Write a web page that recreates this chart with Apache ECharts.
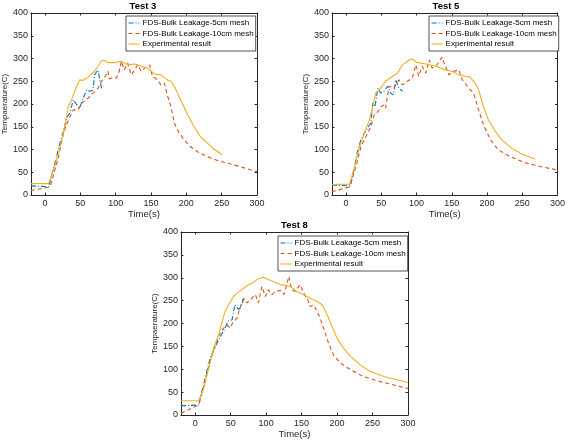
<!DOCTYPE html>
<html><head><meta charset="utf-8">
<script src="https://cdn.jsdelivr.net/npm/echarts@6/dist/echarts.min.js"></script>
<style>html,body{margin:0;padding:0;background:#fff}#c{width:568px;height:442px}</style>
</head><body><div id="c"></div>
<script>
const seriesNames = ['FDS-Bulk Leakage-5cm mesh', 'FDS-Bulk Leakage-10cm mesh', 'Experimental result'];
const chartTitles = ['Test 3', 'Test 5', 'Test 8'];
const xTicks = [0, 50, 100, 150, 200, 250, 300];
const yTicks = [0, 50, 100, 150, 200, 250, 300, 350, 400];

// Test 3
const test3_5cm = [[-20,20],[5,18],[7,22],[14,70],[21,114],[26,139],[30.5,169],[35,180],[40,209],[43,202],[49,191],[54,213],[59,231],[63,228],[68,231],[70,264],[75,275],[77,257],[80,235],[82,239]];
const test3_10cm = [[-20,10],[5,17],[8,22],[19,84],[26,136],[33,165],[40,187],[47,187],[52,202],[61,213],[68,224],[75,235],[80,250],[84,257],[89,272],[91,255],[94,257],[101,257],[105,272],[108,294],[112,275],[117,290],[122,264],[127,275],[131,286],[136,272],[141,279],[148,286],[152,261],[159,253],[164,242],[169,246],[173,220],[178,195],[183,158],[190,136],[197,121],[206,106],[216,95],[230,84],[244,76],[258,70],[277,62],[300,51]];
const test3_exp = [[-20,25],[5,25],[12,55],[19,92],[26,136],[33,195],[37.5,209],[44.5,238],[49,253],[54,252],[61,259],[70,272],[75,283],[80,295],[84,296],[89,291],[98,291],[108,294],[117,286],[127,288],[136,283],[145,279],[155,266],[164,264],[173,253],[178,250],[183,239],[192,209],[202,176],[211,150],[220,128],[230,114],[239,101],[251,88]];

// Test 5
const test5_5cm = [[-20,22],[5,20],[7,26],[12,62],[16,95],[21,121],[26,136],[30.5,147],[35,158],[38,202],[41,194],[45,235],[49,224],[54,228],[59,239],[63,224],[67,220],[70.5,253],[75,235],[80,228]];
const test5_10cm = [[-20,7],[5,18],[7,22],[14,62],[21,106],[28,128],[35,150],[40,176],[45,183],[49,194],[54,198],[56,191],[61,239],[68,235],[75,253],[80,242],[87,250],[94,257],[99,286],[103,261],[108,283],[113,268],[118,297],[122,279],[129,286],[136,303],[141,283],[146,264],[153,272],[160,275],[165,253],[174,235],[181,224],[188,187],[195,154],[205,121],[216,99],[235,83],[254,71],[277,62],[300,55]];
const test5_exp = [[-20,23],[5,24],[12,62],[19,106],[26,136],[33,165],[38,195],[42,224],[47,231],[56,250],[66,261],[73,268],[80,286],[87,294],[92,299],[96,297],[99,292],[113,288],[127,283],[141,275],[150,272],[160,264],[169,261],[176,259],[183,246],[188,231],[195,194],[202,165],[212,139],[221,121],[235,103],[249,90],[268,79]];

// Test 8
const test8_5cm = [[-20,20],[5,22],[7,36],[14,80],[21,124],[26,142],[33,164],[38,179],[42,190],[47,206],[52,208],[56,241],[61,231],[64,234],[68,252],[70.5,255]];
const test8_10cm = [[-20,4],[5,22],[7,33],[14,77],[21,117],[28,150],[35,179],[40,190],[45,197],[49,190],[54,204],[59,212],[63,234],[68,255],[73,245],[78,252],[85,263],[89,245],[94,281],[99,259],[103,274],[108,263],[113,270],[120,272],[125,263],[129,285],[132,303],[136,274],[141,270],[148,285],[153,266],[158,255],[162,237],[167,241],[172,226],[176,212],[181,190],[188,157],[195,131],[205,113],[219,99],[237,84],[261,73],[284,64],[300,58]];
const test8_exp = [[-20,31],[5,31],[12,58],[19,102],[26,146],[33,175],[38,204],[42,226],[47,241],[54,259],[59,266],[66,274],[73,283],[80,288],[87,296],[96,301],[103,296],[110,292],[120,285],[129,283],[134,281],[143,270],[153,263],[162,255],[172,248],[179,241],[186,219],[193,193],[200,168],[209,146],[219,128],[233,109],[247,95],[266,84],[284,77],[300,71]];

const panels = [
  {title: chartTitles[0], data: [test3_5cm, test3_10cm, test3_exp], grid: {left: 29, top: 13, width: 228, height: 182}, legend: {left: 126, top: 16}, yNameGap: 18},
  {title: chartTitles[1], data: [test5_5cm, test5_10cm, test5_exp], grid: {left: 332, top: 13, width: 228, height: 182}, legend: {left: 429, top: 16}, yNameGap: 18},
  {title: chartTitles[2], data: [test8_5cm, test8_10cm, test8_exp], grid: {left: 181, top: 232, width: 227, height: 183}, legend: {left: 278, top: 236}, yNameGap: 18}
];

const colors = ['#0072BD', '#D95319', '#EDB120'];
const dashes = [[5, 2, 1, 2], [4, 3], 'solid'];
const ink = '#262626';
const font = 'Liberation Sans, Arial, sans-serif';

const grids = [], xAxes = [], yAxes = [], series = [], legends = [], titles = [];
panels.forEach((p, i) => {
  grids.push(Object.assign({containLabel: false}, p.grid));
  const cx = p.grid.left + p.grid.width / 2;
  titles.push({text: p.title, left: cx, top: p.grid.top - 12, textAlign: 'center', padding: 0,
    textStyle: {fontFamily: font, fontSize: 9.5, fontWeight: 'bold', color: '#000'}});
  const xBase = {type: 'value', gridIndex: i, min: -20, max: 300, splitLine: {show: false},
    axisLine: {show: true, onZero: false, lineStyle: {color: ink, width: 1}}};
  xAxes.push(Object.assign({}, xBase, {position: 'bottom', name: 'Time(s)', nameLocation: 'middle', nameGap: 13,
    nameTextStyle: {fontFamily: font, fontSize: 9.5, color: ink},
    axisTick: {inside: true, length: 2.5, customValues: xTicks, lineStyle: {color: ink}},
    axisLabel: {customValues: xTicks, margin: 4, fontFamily: font, fontSize: 9, color: ink}}));
  xAxes.push(Object.assign({}, xBase, {position: 'top',
    axisTick: {inside: true, length: 2.5, customValues: xTicks, lineStyle: {color: ink}},
    axisLabel: {show: false}}));
  const yBase = {type: 'value', gridIndex: i, min: 0, max: 400, interval: 50, splitLine: {show: false},
    axisLine: {show: true, onZero: false, lineStyle: {color: ink, width: 1}},
    axisTick: {inside: true, length: 2.5, lineStyle: {color: ink}}};
  yAxes.push(Object.assign({}, yBase, {position: 'left', name: 'Tempaerature(C)', nameLocation: 'middle', nameGap: p.yNameGap,
    nameTextStyle: {fontFamily: font, fontSize: 8, color: ink},
    axisLabel: {margin: 3, fontFamily: font, fontSize: 9, color: ink}}));
  yAxes.push(Object.assign({}, yBase, {position: 'right', axisLabel: {show: false}}));
  p.data.forEach((d, k) => {
    series.push({type: 'line', name: seriesNames[k], xAxisIndex: i * 2, yAxisIndex: i * 2,
      data: d, showSymbol: false, symbol: 'none', smooth: false,
      lineStyle: {color: colors[k], width: 1.1, type: dashes[k]}, itemStyle: {color: colors[k]}});
  });
  legends.push({orient: 'vertical', left: p.legend.left, top: p.legend.top, data: seriesNames,
    selectedMode: false, backgroundColor: '#fff', borderColor: ink, borderWidth: 0.8,
    padding: [3, 2, 3, 2], itemGap: 2.5, itemWidth: 11, itemHeight: 7.5,
    itemStyle: {opacity: 0}, lineStyle: {width: 1.1},
    textStyle: {fontFamily: font, fontSize: 8, color: '#000', padding: [0, 0, 0, -2]}});
});

const chart = echarts.init(document.getElementById('c'), null, {renderer: 'canvas'});
chart.setOption({
  animation: false, backgroundColor: '#fff',
  title: titles, grid: grids, xAxis: xAxes, yAxis: yAxes, legend: legends, series: series
});
</script></body></html>
